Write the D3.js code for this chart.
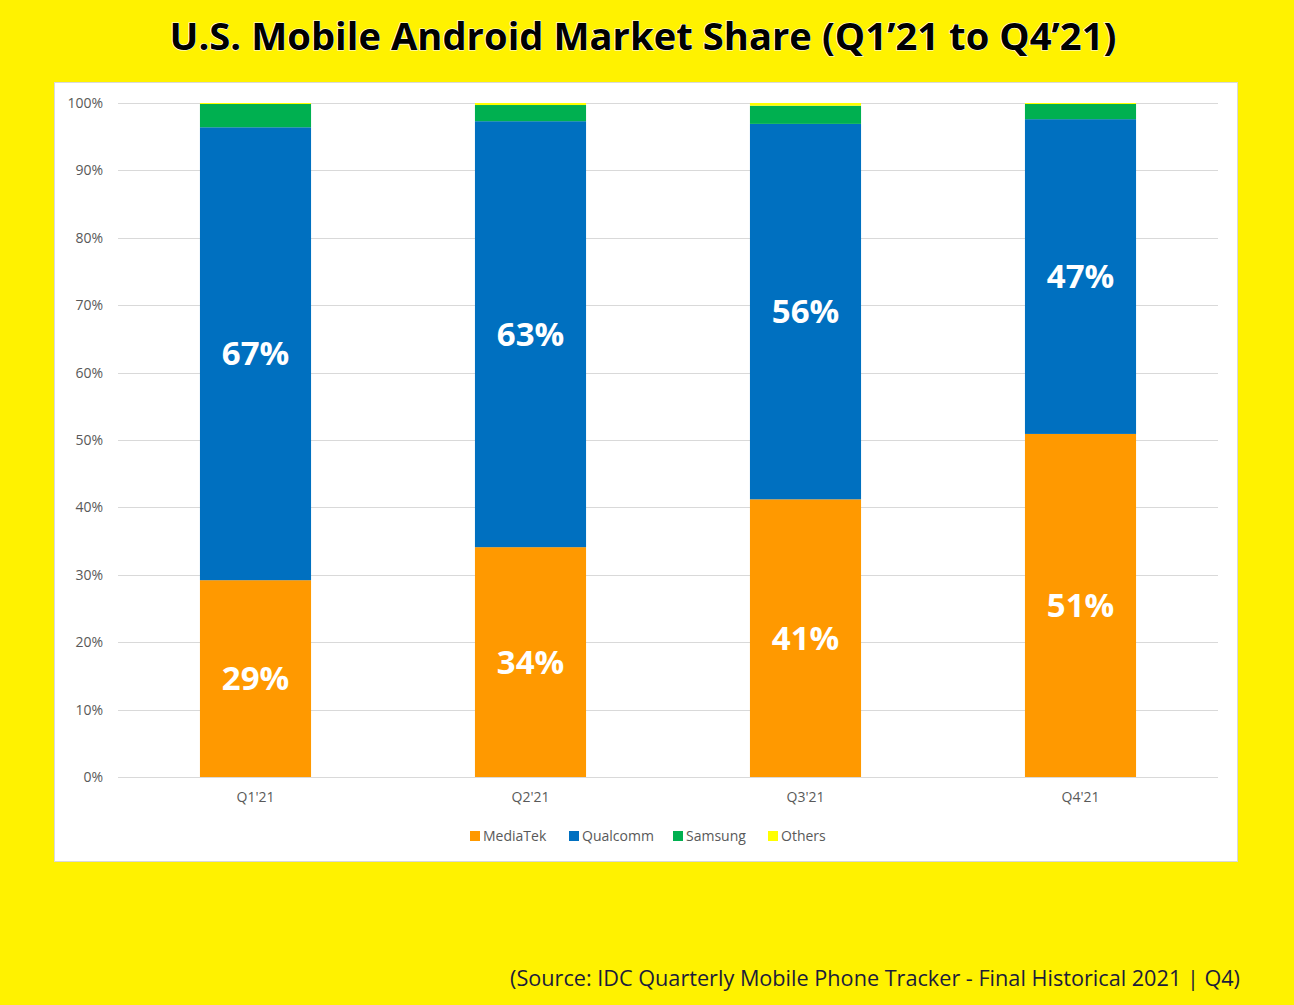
<!DOCTYPE html>
<html><head><meta charset="utf-8">
<script src="https://cdn.jsdelivr.net/npm/d3@7"></script>
<style>html,body{margin:0;padding:0;background:#FFF200;}svg{display:block;}</style>
</head><body>
<script>
const categories = ["Q1'21", "Q2'21", "Q3'21", "Q4'21"];
const seriesNames = ["MediaTek", "Qualcomm", "Samsung", "Others"];
const mediatek = [29.2, 34.1, 41.2, 50.9];
const qualcomm = [67.2, 63.2, 55.7, 46.7];
const samsung  = [3.45, 2.4, 2.7, 2.25];
const others   = [0.15, 0.3, 0.4, 0.15];
const labelsMediatek = ["29%", "34%", "41%", "51%"];
const labelsQualcomm = ["67%", "63%", "56%", "47%"];
const yTicks = [0,10,20,30,40,50,60,70,80,90,100];
const title = "U.S. Mobile Android Market Share (Q1\u201921 to Q4\u201921)";
const source = "(Source: IDC Quarterly Mobile Phone Tracker - Final Historical 2021 | Q4)";

const colors = {MediaTek:"#FF9900", Qualcomm:"#0070C0", Samsung:"#00B050", Others:"#FFFF00"};
const W = 1294, H = 1005;
const font = "'Open Sans', 'Noto Sans', sans-serif";

const svg = d3.select("body").append("svg").attr("width", W).attr("height", H);
svg.append("rect").attr("width", W).attr("height", H).attr("fill", "#FFF200");

// title
svg.append("text").attr("x", 643).attr("y", 50).attr("text-anchor", "middle")
  .attr("font-family", font).attr("font-weight", "bold").attr("font-size", 38)
  .attr("textLength", 947).attr("lengthAdjust", "spacingAndGlyphs")
  .attr("fill", "#000").attr("stroke", "#fff").attr("stroke-width", 1.2)
  .attr("paint-order", "stroke").text(title);

// chart box
svg.append("rect").attr("x", 54.5).attr("y", 82.5).attr("width", 1183).attr("height", 779)
  .attr("fill", "#fff").attr("stroke", "#d9d9d9").attr("stroke-width", 1);

const x = d3.scaleBand().domain(categories).range([118, 1218]).paddingInner(0.596).paddingOuter(0.298);
const y = d3.scaleLinear().domain([0, 100]).range([777, 103]);

// grid
svg.append("g").selectAll("line").data(yTicks).join("line")
  .attr("x1", 118).attr("x2", 1218)
  .attr("y1", d => Math.round(y(d)) + 0.5).attr("y2", d => Math.round(y(d)) + 0.5)
  .attr("stroke", "#d9d9d9").attr("stroke-width", 1);

// y axis labels
const yAxis = d3.axisLeft(y).tickValues(yTicks).tickFormat(d => d + "%").tickSize(0).tickPadding(0);
const gy = svg.append("g").attr("transform", "translate(103,0)").call(yAxis);
gy.select(".domain").remove();
gy.selectAll("text").attr("font-family", font).attr("font-size", 14).attr("fill", "#595959");

// x axis labels
const xAxis = d3.axisBottom(x).tickSize(0).tickPadding(0);
const gx = svg.append("g").attr("transform", "translate(0,792)").call(xAxis);
gx.select(".domain").remove();
gx.selectAll("text").attr("font-family", font).attr("font-size", 14).attr("fill", "#595959");

// stacked data
const rows = categories.map((c, i) => ({cat: c, MediaTek: mediatek[i], Qualcomm: qualcomm[i], Samsung: samsung[i], Others: others[i]}));
const stack = d3.stack().keys(seriesNames)(rows);

svg.append("g").selectAll("g").data(stack).join("g")
  .attr("fill", d => colors[d.key])
  .selectAll("rect").data(d => d).join("rect")
  .attr("x", d => x(d.data.cat)).attr("width", x.bandwidth())
  .attr("y", d => y(d[1])).attr("height", d => y(d[0]) - y(d[1]));

// data labels
function addLabels(layer, labels) {
  svg.append("g").selectAll("text").data(layer).join("text")
    .attr("x", d => x(d.data.cat) + x.bandwidth() / 2)
    .attr("y", d => y((d[0] + d[1]) / 2))
    .attr("dy", "0.35em").attr("text-anchor", "middle")
    .attr("font-family", font).attr("font-weight", "bold").attr("font-size", 33)
    .attr("fill", "#fff").text((d, i) => labels[i]);
}
addLabels(stack[0], labelsMediatek);
addLabels(stack[1], labelsQualcomm);

// legend
const legendX = [470, 569, 673, 768];
const lg = svg.append("g");
seriesNames.forEach((s, i) => {
  const g = lg.append("g").attr("transform", `translate(${legendX[i]},831)`);
  g.append("rect").attr("width", 10).attr("height", 10).attr("fill", colors[s]);
  g.append("text").attr("x", 13).attr("y", 10).attr("font-family", font).attr("font-size", 14)
    .attr("fill", "#595959").text(s);
});

// source
svg.append("text").attr("x", 1240).attr("y", 986).attr("text-anchor", "end")
  .attr("font-family", font).attr("font-size", 22).attr("fill", "#1c1c3a")
  .attr("textLength", 730).attr("lengthAdjust", "spacingAndGlyphs").text(source);
</script>
</body></html>
